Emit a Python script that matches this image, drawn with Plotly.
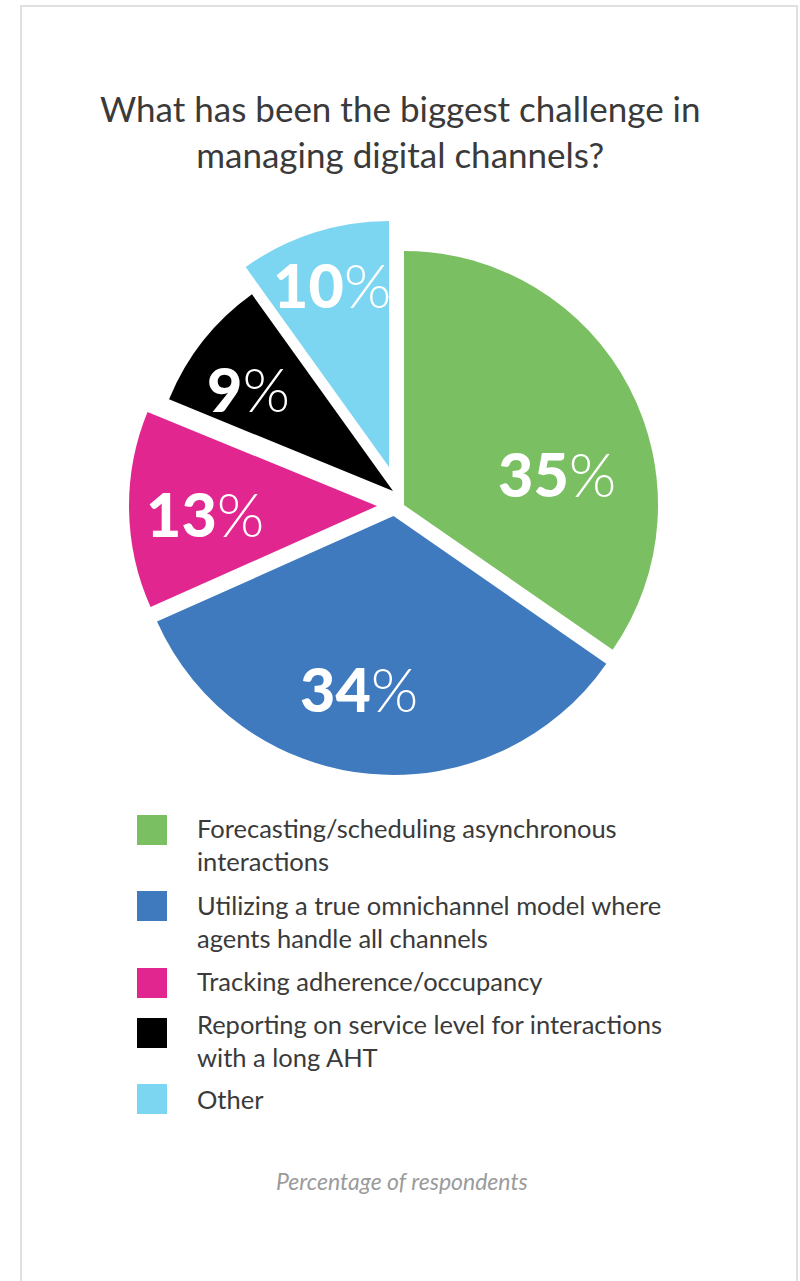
import plotly.graph_objects as go

# Survey results
categories = [
    "Forecasting/scheduling asynchronous interactions",
    "Utilizing a true omnichannel model where agents handle all channels",
    "Tracking adherence/occupancy",
    "Reporting on service level for interactions with a long AHT",
    "Other",
]
legend_text = [
    "Forecasting/scheduling asynchronous<br>interactions",
    "Utilizing a true omnichannel model where<br>agents handle all channels",
    "Tracking adherence/occupancy",
    "Reporting on service level for interactions<br>with a long AHT",
    "Other",
]
values = [35, 34, 13, 9, 10]
colors = ["#7ac063", "#3f7abe", "#e22690", "#000000", "#7dd6f1"]

title_text = "What has been the biggest challenge in<br>managing digital channels?"
footer_text = "Percentage of respondents"

# Page geometry (pixels)
W, H = 800, 1281

# Each wedge is drawn as its own exploded piece: apex position and radius in px
slice_apex = [(404, 505), (393.5, 516), (377, 506), (393, 491), (389, 467)]
slice_radius = [254, 259, 248, 242, 246]
# Label centres in px
label_pos = [(557, 474), (359, 688), (205, 513), (248, 388), (332, 284)]
# Legend rows: square top y and text centre y
legend_rows = [(815, 845), (891, 921), (968, 981), (1018, 1040), (1084, 1099)]


def px(x):
    return x / W


def py(y):
    return 1 - y / H


fig = go.Figure()

for i in range(len(values)):
    cx, cy = slice_apex[i]
    r = slice_radius[i]
    piece_colors = [colors[j] if j == i else "rgba(0,0,0,0)" for j in range(len(values))]
    fig.add_trace(go.Pie(
        values=values,
        labels=categories,
        sort=False,
        direction="clockwise",
        rotation=0,
        marker=dict(colors=piece_colors, line=dict(width=0)),
        textinfo="none",
        hoverinfo="skip",
        showlegend=False,
        domain=dict(x=[px(cx - r), px(cx + r)], y=[py(cy + r), py(cy - r)]),
    ))

shapes = [
    # light frame around the card (open at the bottom)
    dict(type="rect", xref="paper", yref="paper",
         x0=px(21), x1=px(797), y0=-0.05, y1=py(6),
         line=dict(color="#e0e0e0", width=2), fillcolor="rgba(0,0,0,0)", layer="below"),
]

annotations = [
    dict(text=title_text, x=px(400), y=py(131), xref="paper", yref="paper",
         xanchor="center", yanchor="middle", showarrow=False, align="center",
         font=dict(family="Lato", size=35, color="#3a3a3a")),
    dict(text=footer_text, x=px(402), y=py(1181), xref="paper", yref="paper",
         xanchor="center", yanchor="middle", showarrow=False,
         font=dict(family="Lato", size=23, color="#9b9b9b", style="italic")),
]

for i, v in enumerate(values):
    lx, ly = label_pos[i]
    annotations.append(dict(
        text=(f"<span style='font-weight:900'>{v}</span>"
              f"<span style='font-weight:300'>%</span>"),
        x=px(lx), y=py(ly), xref="paper", yref="paper",
        xanchor="center", yanchor="middle", showarrow=False,
        font=dict(family="Lato", size=61, color="white"),
    ))

for i, lab in enumerate(legend_text):
    top, ty = legend_rows[i]
    shapes.append(dict(type="rect", xref="paper", yref="paper",
                       x0=px(137), x1=px(167), y0=py(top + 30), y1=py(top),
                       line=dict(width=0), fillcolor=colors[i]))
    annotations.append(dict(
        text=lab, x=px(195), y=py(ty), xref="paper", yref="paper",
        xanchor="left", yanchor="middle", showarrow=False, align="left",
        font=dict(family="Lato", size=25.5, color="#3a3a3a"),
    ))

fig.update_layout(
    width=W, height=H,
    margin=dict(l=0, r=0, t=0, b=0),
    paper_bgcolor="white",
    plot_bgcolor="white",
    shapes=shapes,
    annotations=annotations,
)

fig.write_html("out.html")
